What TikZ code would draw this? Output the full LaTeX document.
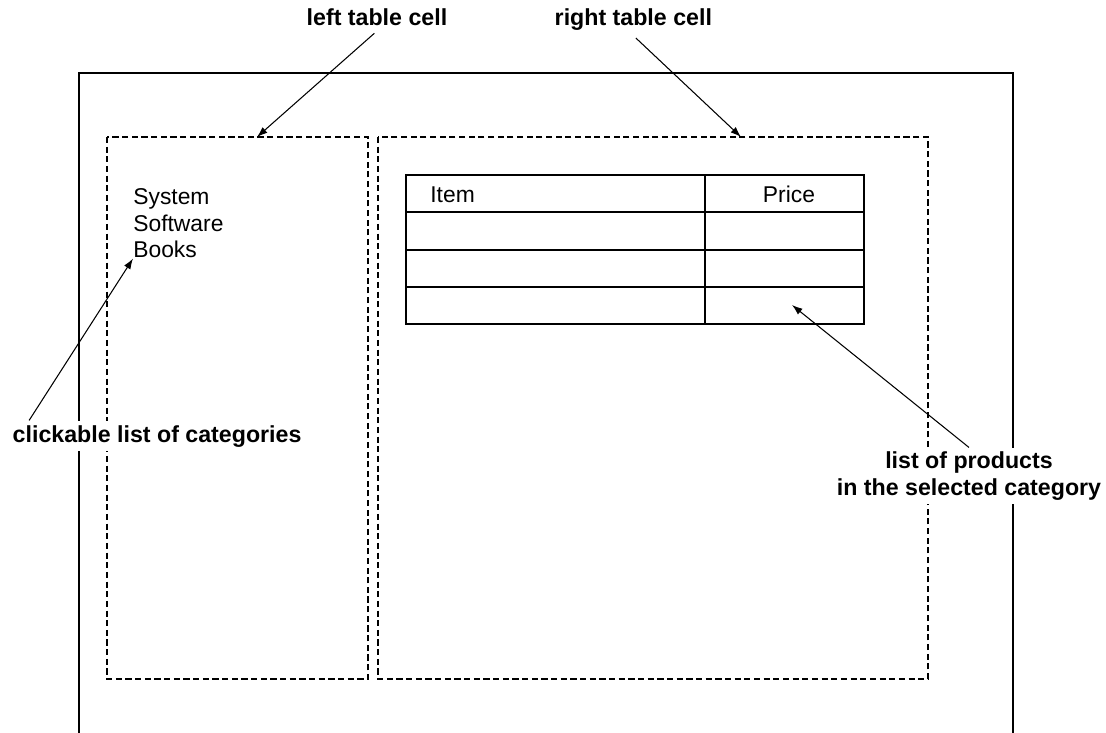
\documentclass[tikz,border=0pt]{standalone}
\usepackage{fontspec}
\setmainfont{Liberation Sans}
\usepackage{tikz}
\usetikzlibrary{positioning,calc,arrows.meta}

\begin{document}
\begin{tikzpicture}[x=0.02cm, y=-0.02cm,
  pagebox/.style={draw=black, line width=0.8pt},
  cellbox/.style={draw=black, line width=0.6pt, dash pattern=on 3.5pt off 2pt},
  tableline/.style={draw=black, line width=0.8pt},
  celltext/.style={font=\fontsize{13}{15}\selectfont, inner sep=0pt},
  calloutlbl/.style={font=\fontsize{13.2}{14.8}\selectfont\bfseries, fill=white, inner sep=2.5pt, align=center},
  pointer/.style={draw=black, line width=0.6pt, -{Latex[length=6pt,width=4.2pt]}},
]
\useasboundingbox (0,0) rectangle (1106,733);

% page (open at the bottom)
\draw[pagebox] (79,733) -- (79,73) -- (1013,73) -- (1013,733);

% the two table cells
\draw[cellbox] (107,137) rectangle (368,679);
\draw[cellbox] (378,137) rectangle (928,679);
\coordinate (lefttip) at (257,137);
\coordinate (righttip) at (741,137);

% categories
\foreach \i/\cat/\yb in {1/System/205, 2/Software/231.5, 3/Books/258} {
  \node[celltext, anchor=base west] (cat\i) at (133,\yb) {\cat};
}

% product table
\def\tL{406}\def\tR{864}\def\tM{705}
\draw[tableline] (\tL,175) rectangle (\tR,324);
\foreach \y in {212,250,287} {
  \draw[tableline] (\tL,\y) -- (\tR,\y);
}
\draw[tableline] (\tM,175) -- (\tM,324);
\node[celltext, anchor=base west] (itemhead) at (430,203) {Item};
\node[celltext, anchor=base] (pricehead) at (789,203) {Price};
\coordinate (prodtip) at (792,305);

% callouts
\node[calloutlbl, anchor=base west] (leftlbl) at (302,26) {left table cell};
\node[calloutlbl, anchor=base west] (rightlbl) at (550,26) {right table cell};
\node[calloutlbl, anchor=base west] (catlbl) at (8,442) {clickable list of categories};
\node[calloutlbl, anchor=base] (prodlbl) at (969,495) {list of products\\in the selected category};

\draw[pointer, shorten <=2pt] (leftlbl.south) -- (lefttip);
\draw[pointer, shorten <=2pt] (rightlbl.south) -- (righttip);
\draw[pointer] ([xshift=12pt]catlbl.north west) -- (cat3.south west);
\draw[pointer] (prodlbl.north) -- (prodtip);
\end{tikzpicture}
\end{document}
